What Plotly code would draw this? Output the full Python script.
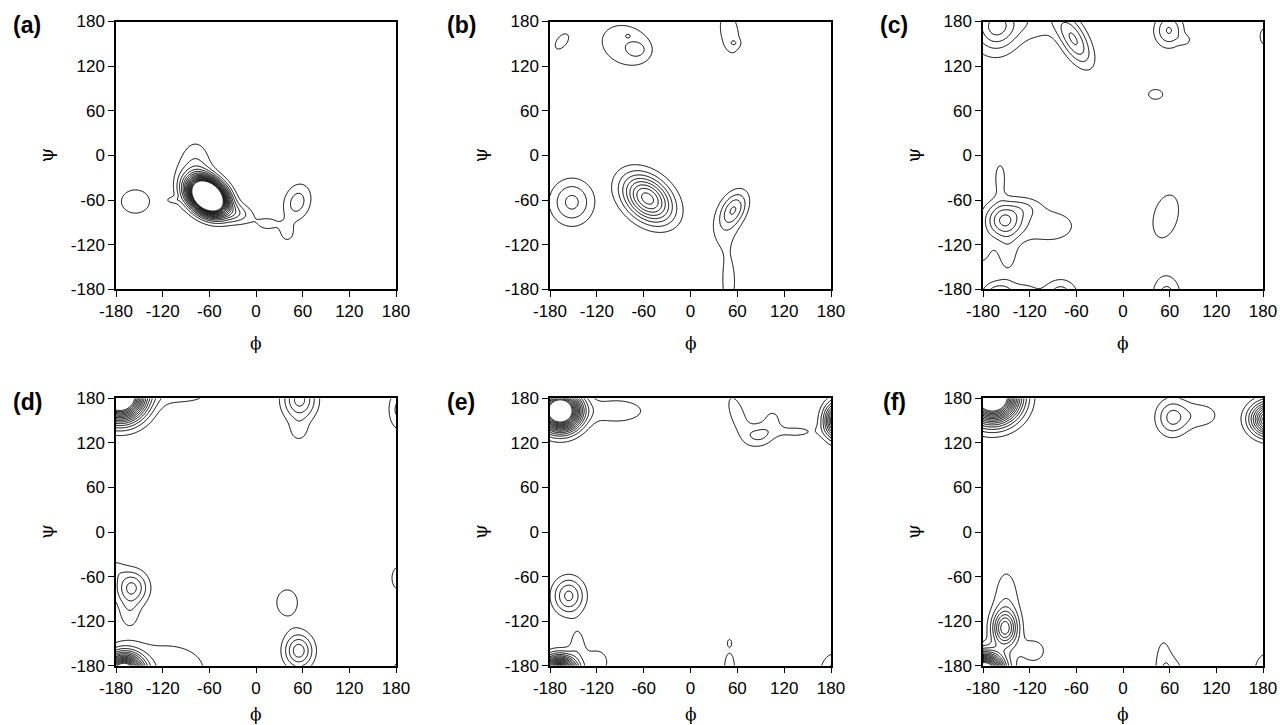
import numpy as np
import plotly.graph_objects as go

# ---------------- axis ticks ----------------
TICK_VALS = [-180, -120, -60, 0, 60, 120, 180]
TICK_TEXT = ["-180", "-120", "-60", "0", "60", "120", "180"]
PANEL_LABELS = ["(a)", "(b)", "(c)", "(d)", "(e)", "(f)"]
CONTOUR_START, CONTOUR_END, CONTOUR_STEP = 1, 15, 1

# ---------------- population peaks ----------------
# (centre phi, centre psi, spread phi, spread psi, tilt, height)
A_PHI = [-62, -78, -25, 15, 53, 40, -155, -107, -98]
A_PSI = [-55, -20, -78, -92, -63, -105, -62, -60, -45]
A_SPHI = [15, 15, 15, 12, 13, 8, 22, 6, 6]
A_SPSI = [15, 28, 10, 8, 18, 10, 19, 3, 22]
A_RHO = [-0.3, 0, -0.2, 0, 0.2, 0, 0, 0, 0]
A_AMP = [35, 2.2, 2.5, 1.3, 2.5, 1.3, 1.4, 1.2, 0.5]

B_PHI = [-165, -82, -68, -80, 50, 56, -152, -55, 45, 56, 49]
B_PSI = [153, 148, 142, 161, 165, 151, -63, -58, -90, -72, -170]
B_SPHI = [10, 28, 8, 3, 13, 5, 18.8, 22, 16, 12, 11]
B_SPSI = [12, 24, 7, 2.5, 30, 4, 21, 22, 28, 16, 40]
B_RHO = [0.5, -0.2, 0, 0, -0.3, 0, 0, -0.35, 0.4, 0.4, 0]
B_AMP = [1.4, 1.85, 1.2, 0.65, 1.5, 0.9, 3.3, 8.5, 1.2, 3.2, 1.25]

C_PHI = [-163, -165, -112, -63, 59, 80, 185, 42, -153, -158, -95, -148, -182, -160, -80, -125, 55, 56, -125]
C_PSI = [175, 165, 180, 155, 168, 155, 160, 82, -87, -30, -95, -135, -130, -188, -186, -185, -82, -190, -70]
C_SPHI = [18, 25, 25, 16, 13, 6, 12, 12.5, 17, 6, 35, 10, 12, 14, 15, 15, 20, 13, 14]
C_SPSI = [20, 30, 18, 24, 16, 5, 17, 9, 17, 18, 22, 20, 18, 12, 14, 12, 35, 20, 10]
C_RHO = [0, 0, 0, -0.6, 0, 0, 0, 0, 0, 0, 0, 0, 0, 0, 0, 0, 0.3, 0, 0]
C_AMP = [3.2, 1.3, 1.6, 4.1, 3.1, 1.1, 1.3, 1.3, 4.95, 1.5, 1.4, 1.3, 1.2, 3.2, 2.5, 1.3, 1.4, 2.5, 1.2]

D_PHI = [-175, -100, 56, 55, 184, -160, -163, -185, 40, 185, -170, -115, 55, 183]
D_PSI = [182, 188, 178, 135, 165, -75, -110, -50, -95, -62, -190, -185, -160, -184]
D_SPHI = [21, 40, 15, 10, 10, 14.5, 10, 12, 17, 14, 16, 52, 13, 8]
D_SPSI = [21, 14, 19, 12, 20, 16, 15, 10, 22, 22, 16, 35, 16, 8]
D_RHO = [0] * 14
D_AMP = [22, 1.5, 4.4, 1.2, 2.3, 4.3, 1.3, 1.3, 1.35, 1.3, 20, 1.5, 4.6, 1.4]

E_PHI = [-167, -95, 60, 88, 135, 105, 190, -156, 50, 50, -168, -145, -120, 186]
E_PSI = [163, 163, 158, 130, 135, 152, 150, -86, -149, -183, -190, -150, -175, -188]
E_SPHI = [17, 32, 12, 13, 22, 10, 12, 14, 2, 7, 14, 8, 14, 14]
E_SPSI = [17, 14, 25, 11, 7, 12, 16, 17, 4, 22, 14, 18, 16, 18]
E_RHO = [0, 0, -0.6, 0, 0, 0, 0, 0, 0, 0, 0, 0, 0, 0]
E_AMP = [22, 1.6, 1.5, 2.1, 1.25, 1.2, 12, 4.3, 1.3, 1.5, 20, 1.4, 1.5, 2.5]

F_PHI = [-168, 63, 100, 190, -150, -152, -178, -115, 52, 65, 186]
F_PSI = [182, 154, 157, 152, -100, -130, -188, -160, -175, -190, -188]
F_SPHI = [22, 14.4, 20, 17, 13, 11, 16, 14, 9, 12, 12]
F_SPSI = [22, 17.5, 14, 15, 40, 16, 16, 14, 30, 16, 18]
F_RHO = [0] * 11
F_AMP = [22, 3.2, 1.5, 12, 1.8, 6.5, 20, 1.5, 1.4, 1.4, 2.5]

PANELS = [
    (A_PHI, A_PSI, A_SPHI, A_SPSI, A_RHO, A_AMP),
    (B_PHI, B_PSI, B_SPHI, B_SPSI, B_RHO, B_AMP),
    (C_PHI, C_PSI, C_SPHI, C_SPSI, C_RHO, C_AMP),
    (D_PHI, D_PSI, D_SPHI, D_SPSI, D_RHO, D_AMP),
    (E_PHI, E_PSI, E_SPHI, E_SPSI, E_RHO, E_AMP),
    (F_PHI, F_PSI, F_SPHI, F_SPSI, F_RHO, F_AMP),
]

GRID = np.arange(-180, 181, 2.0)


def density(phis, psis, sphis, spsis, rhos, amps):
    X, Y = np.meshgrid(GRID, GRID)
    Z = np.zeros_like(X)
    for p, q, sx, sy, r, a in zip(phis, psis, sphis, spsis, rhos, amps):
        dx = (X - p) / sx
        dy = (Y - q) / sy
        Q = (dx * dx - 2 * r * dx * dy + dy * dy) / (1 - r * r)
        Z += a * np.exp(-0.5 * Q)
    return Z


# ---------------- layout geometry (pixels) ----------------
W, H = 1280, 725
COL_X = [(116, 396), (550, 831), (983, 1263)]
ROW_Y = [(21.5, 289.3), (398.3, 665.7)]
PHI_TITLE_Y = [343, 714]

fig = go.Figure()
layout = dict(
    width=W, height=H, margin=dict(l=0, r=0, t=0, b=0, autoexpand=False),
    paper_bgcolor="white", plot_bgcolor="white", showlegend=False,
    annotations=[],
)

TICK_FONT = dict(family="Liberation Sans, Arial, sans-serif", size=17, color="black")

for i, pars in enumerate(PANELS):
    row, col = divmod(i, 3)
    x0, x1 = COL_X[col]
    y0, y1 = ROW_Y[row]
    sfx = "" if i == 0 else str(i + 1)
    fig.add_trace(go.Contour(
        x=GRID, y=GRID, z=density(*pars),
        contours=dict(start=CONTOUR_START, end=CONTOUR_END, size=CONTOUR_STEP, coloring="none"),
        line=dict(color="black", width=1.0, smoothing=0.6),
        showscale=False, hoverinfo="skip",
        xaxis="x" + sfx, yaxis="y" + sfx,
    ))
    common = dict(
        range=[-180, 180], tickvals=TICK_VALS, ticktext=TICK_TEXT,
        ticks="outside", ticklen=6, tickwidth=1, tickcolor="black",
        showline=True, linecolor="black", linewidth=1.5, mirror=True,
        showgrid=False, zeroline=False, tickfont=TICK_FONT, automargin=False,
    )
    layout["xaxis" + sfx] = dict(common, domain=[x0 / W, x1 / W], anchor="y" + sfx)
    layout["yaxis" + sfx] = dict(common, domain=[1 - y1 / H, 1 - y0 / H], anchor="x" + sfx)

    # panel label
    layout["annotations"].append(dict(
        text="<b>" + PANEL_LABELS[i] + "</b>", xref="paper", yref="paper",
        x=(x0 - 89) / W, y=1 - (y0 + 4) / H, xanchor="center", yanchor="middle",
        showarrow=False, font=dict(family="Liberation Sans, Arial, sans-serif", size=23, color="black"),
    ))
    # phi title
    layout["annotations"].append(dict(
        text="\u03d5", xref="paper", yref="paper",
        x=(x0 + x1) / 2 / W, y=1 - PHI_TITLE_Y[row] / H, xanchor="center", yanchor="middle",
        showarrow=False, font=dict(family="DejaVu Serif, Liberation Serif, serif", size=17, color="black"),
    ))
    # psi title
    layout["annotations"].append(dict(
        text="\u03c8", xref="paper", yref="paper", textangle=-90,
        x=(x0 - 70) / W, y=1 - (y0 + y1) / 2 / H, xanchor="center", yanchor="middle",
        showarrow=False, font=dict(family="DejaVu Serif, Liberation Serif, serif", size=19, color="black"),
    ))

fig.update_layout(**layout)
fig.write_html("out.html")
